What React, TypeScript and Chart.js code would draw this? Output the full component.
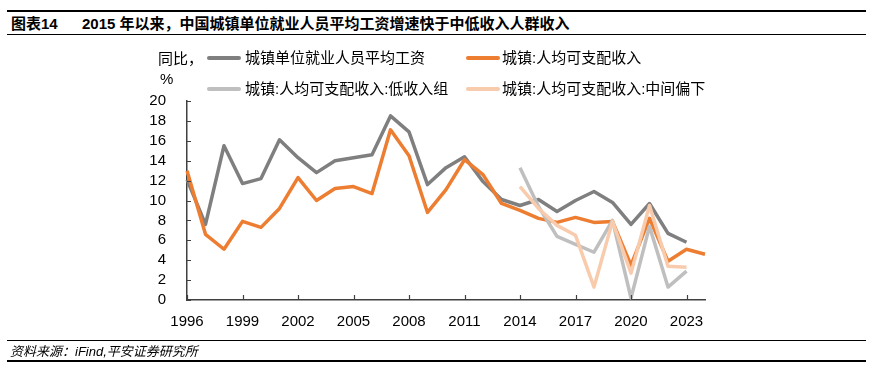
import React, { useEffect, useRef } from "react";
import { Chart, registerables } from "chart.js";

Chart.register(...registerables);

const years = [
  "1996", "1997", "1998", "1999", "2000", "2001", "2002", "2003", "2004", "2005",
  "2006", "2007", "2008", "2009", "2010", "2011", "2012", "2013", "2014", "2015",
  "2016", "2017", "2018", "2019", "2020", "2021", "2022", "2023", "2024",
];
const xTickLabels = ["1996", "1999", "2002", "2005", "2008", "2011", "2014", "2017", "2020", "2023"];
const yTicks = [0, 2, 4, 6, 8, 10, 12, 14, 16, 18, 20];

const wageGrowth = [
  12.1, 7.6, 15.5, 11.7, 12.2, 16.1, 14.3, 12.8, 14.0, 14.3,
  14.6, 18.5, 16.9, 11.6, 13.3, 14.4, 11.9, 10.1, 9.5, 10.1,
  8.9, 10.0, 10.9, 9.8, 7.6, 9.7, 6.7, 5.8, null,
];
const incomeGrowth = [
  13.0, 6.6, 5.1, 7.9, 7.3, 9.2, 12.3, 10.0, 11.2, 11.4,
  10.7, 17.1, 14.5, 8.8, 11.1, 14.1, 12.6, 9.7, 9.0, 8.2,
  7.8, 8.3, 7.8, 7.9, 3.5, 8.2, 3.9, 5.1, 4.6,
];
const lowIncomeGrowth = [
  null, null, null, null, null, null, null, null, null, null,
  null, null, null, null, null, null, null, null, 13.3, 9.4,
  6.4, 5.6, 4.8, 8.0, 0.2, 7.4, 1.3, 2.9, null,
];
const lowerMiddleGrowth = [
  null, null, null, null, null, null, null, null, null, null,
  null, null, null, null, null, null, null, null, 11.4, 9.2,
  7.5, 6.5, 1.3, 7.9, 2.7, 9.5, 3.4, 3.3, null,
];

const seriesNames = [
  "城镇单位就业人员平均工资",
  "城镇:人均可支配收入",
  "城镇:人均可支配收入:低收入组",
  "城镇:人均可支配收入:中间偏下",
];
const seriesColors = ["#7f7f7f", "#ed7d31", "#bfbfbf", "#f8cbad"];

const FONT = '"Liberation Sans", Arial, "Noto Sans CJK SC", sans-serif';
const AXIS_COLOR = "#404040";

const innerTicks = {
  id: "innerTicks",
  afterDraw(chart: any) {
    const { ctx, chartArea, scales } = chart;
    const x = scales.x;
    const y = scales.y;
    ctx.save();
    ctx.strokeStyle = AXIS_COLOR;
    ctx.lineWidth = 1.2;
    ctx.beginPath();
    yTicks.forEach((v) => {
      const py = Math.round(y.getPixelForValue(v)) + 0.5;
      ctx.moveTo(chartArea.left, py);
      ctx.lineTo(chartArea.left + 4, py);
    });
    years.forEach((yr, i) => {
      if (xTickLabels.includes(yr)) {
        const px = Math.round(x.getPixelForValue(i)) + 0.5;
        ctx.moveTo(px, chartArea.bottom);
        ctx.lineTo(px, chartArea.bottom - 5);
      }
    });
    ctx.stroke();
    ctx.restore();
  },
};

export default function App() {
  const canvasRef = useRef<HTMLCanvasElement | null>(null);

  useEffect(() => {
    if (!canvasRef.current) return;
    const allData = [wageGrowth, incomeGrowth, lowIncomeGrowth, lowerMiddleGrowth];
    const chart = new Chart(canvasRef.current, {
      type: "line",
      data: {
        labels: years,
        datasets: allData.map((d, i) => ({
          label: seriesNames[i],
          data: d,
          borderColor: seriesColors[i],
          backgroundColor: seriesColors[i],
          borderWidth: 3.5,
          pointRadius: 0,
          tension: 0,
          spanGaps: false,
          order: 4 - i,
          borderJoinStyle: "round" as const,
        })),
      },
      options: {
        animation: false,
        responsive: false,
        maintainAspectRatio: false,
        layout: { padding: { top: 101, right: 169, left: 0, bottom: 0 } },
        plugins: { legend: { display: false }, tooltip: { enabled: false } },
        scales: {
          x: {
            type: "category",
            offset: false,
            grid: { display: false },
            border: { display: true, color: AXIS_COLOR, width: 1.5 },
            ticks: {
              autoSkip: false,
              maxRotation: 0,
              padding: 5,
              color: "#000",
              font: { family: FONT, size: 15 },
              callback: (_v: any, idx: number) =>
                xTickLabels.includes(years[idx]) ? years[idx] : "",
            },
            afterFit: (s: any) => {
              s.height = 68;
            },
          },
          y: {
            min: 0,
            max: 20,
            grid: { display: false },
            border: { display: true, color: AXIS_COLOR, width: 1.5 },
            ticks: {
              stepSize: 2,
              autoSkip: false,
              padding: 13,
              color: "#000",
              font: { family: FONT, size: 15 },
            },
            afterFit: (s: any) => {
              s.width = 187;
            },
          },
        },
      },
      plugins: [innerTicks],
    });
    return () => chart.destroy();
  }, []);

  const legendText: React.CSSProperties = {
    position: "absolute",
    fontFamily: FONT,
    fontSize: 15,
    lineHeight: "18px",
    color: "#000",
    whiteSpace: "nowrap",
  };
  const titleText: React.CSSProperties = {
    position: "absolute",
    top: 14,
    fontFamily: FONT,
    fontWeight: "bold",
    fontSize: 15,
    lineHeight: "19px",
    whiteSpace: "nowrap",
    color: "#000",
  };
  const sample = (left: number, top: number, color: string) => (
    <div
      style={{
        position: "absolute",
        left,
        top,
        width: 34,
        height: 4,
        borderRadius: 2,
        background: color,
      }}
    />
  );

  return (
    <div
      style={{
        position: "absolute",
        left: 0,
        top: 0,
        width: 874,
        height: 368,
        background: "#fff",
        overflow: "hidden",
      }}
    >
      {/* title */}
      <div style={{ position: "absolute", left: 7, top: 10, width: 859, height: 2, background: "#000" }} />
      <div style={{ ...titleText, left: 11 }}>图表14</div>
      <div style={{ ...titleText, left: 82 }}>
        2015 年以来，中国城镇单位就业人员平均工资增速快于中低收入人群收入
      </div>
      <div style={{ position: "absolute", left: 7, top: 34, width: 859, height: 1, background: "#000" }} />

      <canvas
        ref={canvasRef}
        width={874}
        height={368}
        style={{ position: "absolute", left: 0, top: 0, width: 874, height: 368 }}
      />

      {/* y unit */}
      <div style={{ ...legendText, left: 158, top: 50 }}>同比，</div>
      <div style={{ ...legendText, left: 160, top: 70 }}>%</div>

      {/* legend */}
      {sample(207, 56, seriesColors[0])}
      <div style={{ ...legendText, left: 245, top: 49 }}>{seriesNames[0]}</div>
      {sample(466, 56, seriesColors[1])}
      <div style={{ ...legendText, left: 502, top: 49 }}>{seriesNames[1]}</div>
      {sample(207, 87, seriesColors[2])}
      <div style={{ ...legendText, left: 245, top: 80 }}>{seriesNames[2]}</div>
      {sample(466, 87, seriesColors[3])}
      <div style={{ ...legendText, left: 502, top: 80 }}>{seriesNames[3]}</div>

      {/* footer */}
      <div style={{ position: "absolute", left: 7, top: 340, width: 859, height: 1, background: "#000" }} />
      <div
        style={{
          position: "absolute",
          left: 10,
          top: 343,
          fontFamily: FONT,
          fontStyle: "italic",
          fontSize: 13,
          lineHeight: "17px",
          whiteSpace: "nowrap",
          color: "#000",
        }}
      >
        资料来源：iFind,平安证券研究所
      </div>
      <div style={{ position: "absolute", left: 7, top: 360, width: 859, height: 2, background: "#000" }} />
    </div>
  );
}
